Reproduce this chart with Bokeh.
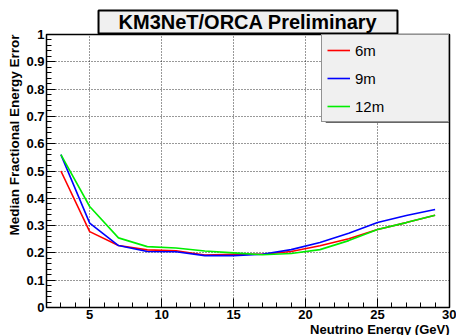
from bokeh.plotting import figure
from bokeh.models import (Range1d, FixedTicker, BoxAnnotation, Legend, LegendItem, Title)
from bokeh.embed import file_html
from bokeh.resources import INLINE

# ---- data ----
energy = [3, 5, 7, 9, 11, 13, 15, 17, 19, 21, 23, 25, 27, 29]
err_6m = [0.50, 0.278, 0.227, 0.211, 0.208, 0.192, 0.195, 0.195, 0.205, 0.226, 0.252, 0.286, 0.311, 0.338]
err_9m = [0.56, 0.309, 0.227, 0.205, 0.204, 0.190, 0.190, 0.195, 0.212, 0.238, 0.272, 0.311, 0.337, 0.359]
err_12m = [0.56, 0.370, 0.255, 0.223, 0.218, 0.207, 0.200, 0.193, 0.198, 0.212, 0.245, 0.286, 0.311, 0.338]
series_names = ["6m", "9m", "12m"]
series_colors = ["#ff0000", "#0000ff", "#00ee00"]
x_ticks = [5, 10, 15, 20, 25, 30]
y_ticks = [0, 0.1, 0.2, 0.3, 0.4, 0.5, 0.6, 0.7, 0.8, 0.9, 1]
y_tick_labels = ["0", "0.1", "0.2", "0.3", "0.4", "0.5", "0.6", "0.7", "0.8", "0.9", "1"]
title_text = "KM3NeT/ORCA Preliminary"
x_label = "Neutrino Energy (GeV)"
y_label = "Median Fractional Energy Error"

FONT = "Liberation Sans"

p = figure(width=456, height=335, output_backend="svg", toolbar_location=None,
           x_range=Range1d(2, 30), y_range=Range1d(0, 1),
           min_border_left=46, min_border_right=7, min_border_top=34, min_border_bottom=28)
p.background_fill_color = "white"
p.border_fill_color = "white"
p.outline_line_color = "black"
p.outline_line_width = 1.5

for ax in (p.xaxis[0], p.yaxis[0]):
    ax.major_tick_in = 9
    ax.major_tick_out = 0
    ax.minor_tick_in = 5
    ax.minor_tick_out = 0
    ax.axis_line_color = "black"
    ax.major_tick_line_color = "black"
    ax.minor_tick_line_color = "black"
    ax.major_label_text_font = FONT
    ax.major_label_text_font_style = "bold"
    ax.major_label_text_font_size = "13px"
    ax.major_label_text_color = "black"

p.xaxis[0].ticker = FixedTicker(ticks=x_ticks, minor_ticks=list(range(2, 31)))
p.xaxis[0].major_label_standoff = 2
p.yaxis[0].ticker = FixedTicker(ticks=y_ticks, minor_ticks=[k / 50 for k in range(51)])
p.yaxis[0].major_label_overrides = {t: s for t, s in zip(y_ticks, y_tick_labels)}
p.yaxis[0].major_label_standoff = 2

for g in (p.xgrid[0], p.ygrid[0]):
    g.grid_line_color = "black"
    g.grid_line_dash = "1 2"
    g.grid_line_width = 1
    g.grid_line_alpha = 0.8

renderers = []
for ys, c in zip([err_6m, err_9m, err_12m], series_colors):
    r = p.line(energy, ys, line_color=c, line_width=1.6)
    renderers.append(r)

# legend shadow strip
p.add_layout(BoxAnnotation(left=21.4, right=30, top=0.686, bottom=0.677,
                           fill_color="#333333", fill_alpha=1, line_alpha=0))

legend = Legend(items=[LegendItem(label=n, renderers=[r]) for n, r in zip(series_names, renderers)],
                location="top_right", margin=0, padding=5, spacing=8,
                glyph_width=23, glyph_height=20, label_height=20, label_width=88,
                label_standoff=5, label_text_font=FONT, label_text_font_size="15px",
                label_text_color="black",
                background_fill_color="#f0f0f0", background_fill_alpha=1,
                border_line_color="#333333", border_line_width=1.2)
p.add_layout(legend, "center")

# title box
p.add_layout(Title(text=title_text, align="center", text_font=FONT, text_font_style="bold",
                   text_font_size="20px", text_color="black", standoff=2,
                   background_fill_color="#f0f0f0", border_line_color="black",
                   border_line_width=2, padding=dict(left=20, right=20, top=0, bottom=1)), "above")

p.add_layout(Title(text=x_label, align="right", text_font=FONT, text_font_style="bold",
                   text_font_size="13px", text_color="black", standoff=-4), "below")
p.add_layout(Title(text=y_label, align="right", text_font=FONT, text_font_style="bold",
                   text_font_size="13.5px", text_color="black", standoff=3), "left")

open("out.html", "w").write(file_html(p, INLINE))
